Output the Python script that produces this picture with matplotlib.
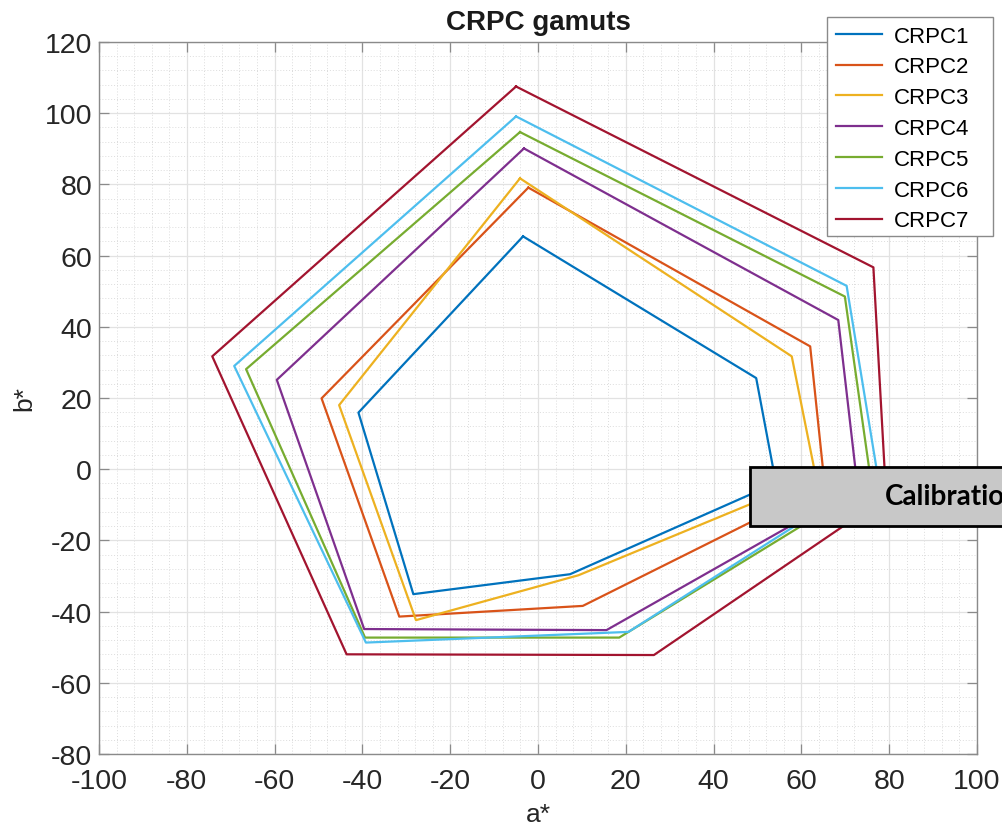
import matplotlib
matplotlib.use("Agg")
import matplotlib.pyplot as plt
from matplotlib.patches import Rectangle
from matplotlib.ticker import MultipleLocator

plt.rcParams['font.family'] = ['Liberation Sans', 'DejaVu Sans']
plt.rcParams['axes.unicode_minus'] = False

series_names = ["CRPC1", "CRPC2", "CRPC3", "CRPC4", "CRPC5", "CRPC6", "CRPC7"]
series_colors = ["#0072BD", "#D95319", "#EDB120", "#7E2F8E", "#77AC30", "#4DBEEE", "#A2142F"]

crpc1_a = [-3.4, 49.7, 54.2, 7.3, -28.4, -40.9, -3.4]
crpc1_b = [65.4, 25.6, -3.9, -29.5, -35.1, 15.9, 65.4]
crpc2_a = [-2.2, 62.0, 65.3, 10.2, -31.6, -49.3, -2.2]
crpc2_b = [79.1, 34.5, -4.5, -38.4, -41.4, 19.9, 79.1]
crpc3_a = [-4.1, 57.8, 63.3, 9.2, -27.8, -45.3, -4.1]
crpc3_b = [81.7, 31.7, -2.2, -29.8, -42.4, 18.0, 81.7]
crpc4_a = [-3.2, 68.4, 72.8, 15.6, -39.6, -59.5, -3.2]
crpc4_b = [90.1, 41.9, -5.2, -45.2, -44.9, 25.1, 90.1]
crpc5_a = [-4.1, 69.9, 75.9, 18.5, -39.4, -66.5, -4.1]
crpc5_b = [94.7, 48.5, -3.9, -47.3, -47.3, 28.1, 94.7]
crpc6_a = [-5.0, 70.3, 77.3, 20.6, -39.2, -69.2, -5.0]
crpc6_b = [99.1, 51.5, -1.2, -45.7, -48.7, 29.0, 99.1]
crpc7_a = [-5.0, 76.4, 79.3, 26.4, -43.6, -74.2, -5.0]
crpc7_b = [107.5, 56.7, -7.8, -52.2, -52.0, 31.7, 107.5]

series_a = [crpc1_a, crpc2_a, crpc3_a, crpc4_a, crpc5_a, crpc6_a, crpc7_a]
series_b = [crpc1_b, crpc2_b, crpc3_b, crpc4_b, crpc5_b, crpc6_b, crpc7_b]

x_ticks = list(range(-100, 101, 20))
y_ticks = list(range(-80, 121, 20))

W, H = 1003, 828
fig = plt.figure(figsize=(W / 100, H / 100), dpi=100)
ax = fig.add_axes([99 / W, 1 - 755 / H, (977 - 99) / W, (755 - 43) / H])

for name, col, a, b in zip(series_names, series_colors, series_a, series_b):
    ax.plot(a, b, color=col, lw=1.6, label=name, zorder=3)

ax.set_xlim(-100, 100)
ax.set_ylim(-80, 120)
ax.set_xticks(x_ticks)
ax.set_yticks(y_ticks)
ax.xaxis.set_minor_locator(MultipleLocator(4))
ax.yaxis.set_minor_locator(MultipleLocator(4))
ax.grid(which='major', color='#e2e2e2', lw=0.9, ls='-', zorder=0)
ax.grid(which='minor', color='#dcdcdc', lw=0.7, ls=(0, (1, 2)), zorder=0)
ax.set_axisbelow(True)
ax.tick_params(which='major', direction='in', length=7, width=0.9, color='#8a8a8a',
               top=True, right=True, labelsize=20.5, labelcolor='#262626')
ax.tick_params(axis='x', which='major', pad=10)
ax.tick_params(axis='y', which='major', pad=5)
ax.tick_params(which='minor', length=0, top=True, right=True)
for s in ax.spines.values():
    s.set_color('#8a8a8a')
    s.set_linewidth(1.0)

ax.set_xlabel("a*", fontsize=19, color='#262626', labelpad=6)
ax.set_ylabel("b*", fontsize=19, color='#262626', labelpad=6)
ax.set_title("CRPC gamuts", fontsize=20, fontweight='bold', color='#1a1a1a', pad=9)

# Legend frame drawn as a fixed box, legend entries placed inside it
leg_frame = Rectangle((827 / W, 1 - 237 / H), (993 - 827) / W, (237 - 18) / H,
                      transform=fig.transFigure, facecolor='white', edgecolor='#8a8a8a',
                      lw=1.0, zorder=9, clip_on=False)
ax.add_patch(leg_frame)
leg = ax.legend(loc='upper left', bbox_to_anchor=(829 / W, 1 - 20 / H),
                bbox_transform=fig.transFigure, fontsize=16, frameon=False,
                handlelength=2.1, handletextpad=0.5, labelspacing=0.44,
                borderpad=0.3, borderaxespad=0.0)
leg.set_zorder(10)

# Overlaid "Calibration" box (partly outside the figure)
rect = Rectangle((750 / W, 1 - 527 / H), 300 / W, 59 / H, transform=fig.transFigure,
                 facecolor='#c8c8c8', edgecolor='black', lw=2.0, zorder=20)
fig.patches.append(rect)
fig.text(885 / W, 1 - 497 / H, "Calibration", fontsize=20, fontweight='bold',
         family=['Lato', 'DejaVu Sans'], ha='left', va='center', color='black', zorder=21)

fig.savefig("out.png", dpi=100)
